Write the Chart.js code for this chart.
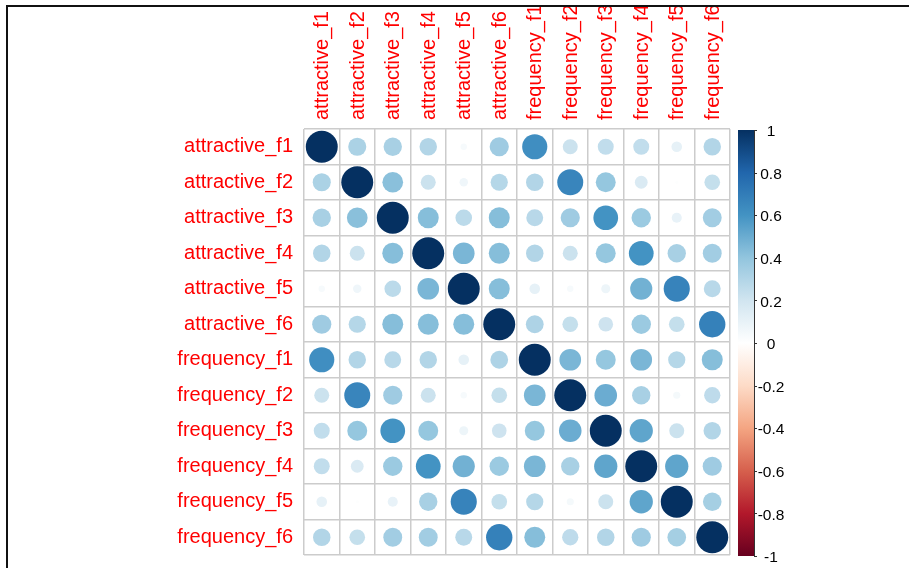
<!DOCTYPE html>
<html>
<head>
<meta charset="utf-8">
<title>Correlation matrix</title>
<script src="https://cdn.jsdelivr.net/npm/chart.js@4.4.1/dist/chart.umd.min.js"></script>
<style>
  html, body { margin: 0; padding: 0; background: #fff; overflow: hidden; }
  #frame {
    position: absolute; left: 6px; top: 5px; width: 903px; height: 563px;
    border-top: 2px solid #111; border-left: 2px solid #111; overflow: hidden;
  }
  #c { position: absolute; left: 0; top: 0; }
</style>
</head>
<body>
<div id="frame"><canvas id="c" width="901" height="561" style="width:901px;height:561px"></canvas></div>
<script>
// Variables (row / column order of the matrix)
const variables = [
  'attractive_f1', 'attractive_f2', 'attractive_f3', 'attractive_f4', 'attractive_f5', 'attractive_f6',
  'frequency_f1', 'frequency_f2', 'frequency_f3', 'frequency_f4', 'frequency_f5', 'frequency_f6'
];

// Correlation coefficients, one row per variable
const attractive_f1 = [1.00, 0.32, 0.33, 0.30, 0.04, 0.36, 0.62, 0.22, 0.25, 0.25, 0.11, 0.30];
const attractive_f2 = [0.32, 1.00, 0.42, 0.22, 0.07, 0.29, 0.30, 0.66, 0.39, 0.16, 0.01, 0.24];
const attractive_f3 = [0.33, 0.42, 1.00, 0.43, 0.27, 0.43, 0.28, 0.36, 0.60, 0.37, 0.10, 0.35];
const attractive_f4 = [0.30, 0.22, 0.43, 1.00, 0.46, 0.43, 0.30, 0.22, 0.39, 0.60, 0.33, 0.35];
const attractive_f5 = [0.04, 0.07, 0.27, 0.46, 1.00, 0.43, 0.11, 0.04, 0.08, 0.48, 0.67, 0.28];
const attractive_f6 = [0.36, 0.29, 0.43, 0.43, 0.43, 1.00, 0.31, 0.24, 0.21, 0.37, 0.24, 0.68];
const frequency_f1  = [0.62, 0.30, 0.28, 0.30, 0.11, 0.31, 1.00, 0.46, 0.39, 0.46, 0.29, 0.43];
const frequency_f2  = [0.22, 0.66, 0.36, 0.22, 0.04, 0.24, 0.46, 1.00, 0.50, 0.33, 0.05, 0.26];
const frequency_f3  = [0.25, 0.39, 0.60, 0.39, 0.08, 0.21, 0.39, 0.50, 1.00, 0.53, 0.22, 0.30];
const frequency_f4  = [0.25, 0.16, 0.37, 0.60, 0.48, 0.37, 0.46, 0.33, 0.53, 1.00, 0.53, 0.36];
const frequency_f5  = [0.11, 0.01, 0.10, 0.33, 0.67, 0.24, 0.29, 0.05, 0.22, 0.53, 1.00, 0.34];
const frequency_f6  = [0.30, 0.24, 0.35, 0.35, 0.28, 0.68, 0.43, 0.26, 0.30, 0.36, 0.34, 1.00];

const rows = [
  attractive_f1, attractive_f2, attractive_f3, attractive_f4, attractive_f5, attractive_f6,
  frequency_f1, frequency_f2, frequency_f3, frequency_f4, frequency_f5, frequency_f6
];

// Colour legend ticks
const legendTicks = [1, 0.8, 0.6, 0.4, 0.2, 0, -0.2, -0.4, -0.6, -0.8, -1];

// Diverging red-blue palette, evenly spaced from -1 to 1
const palette = ['#67001F', '#B2182B', '#D6604D', '#F4A582', '#FDDBC7', '#FFFFFF',
                 '#D1E5F0', '#92C5DE', '#4393C3', '#2166AC', '#053061'];

function hexToRgb(h) {
  return [parseInt(h.slice(1, 3), 16), parseInt(h.slice(3, 5), 16), parseInt(h.slice(5, 7), 16)];
}
function colorFor(v) {
  const t = (Math.max(-1, Math.min(1, v)) + 1) / 2 * (palette.length - 1);
  const i = Math.min(Math.floor(t), palette.length - 2);
  const f = t - i;
  const a = hexToRgb(palette[i]), b = hexToRgb(palette[i + 1]);
  const c = a.map((x, k) => Math.round(x + (b[k] - x) * f));
  return `rgb(${c[0]},${c[1]},${c[2]})`;
}

const points = [];
rows.forEach((row, i) => row.forEach((v, j) => {
  points.push({ x: variables[j], y: variables[i], v: v });
}));

const FONT = '"Liberation Sans", Arial, Helvetica, sans-serif';
Chart.defaults.font.family = FONT;

// Vertical colour legend drawn beside the matrix
const colorLegend = {
  id: 'colorLegend',
  afterDraw(chart) {
    const { ctx, chartArea } = chart;
    const s = chart.scales.legendScale;
    const x0 = chartArea.right + 8, w = 16;
    const top = s.getPixelForValue(1) + 1;
    const bot = s.getPixelForValue(-1) + 1;
    ctx.save();
    const g = ctx.createLinearGradient(0, bot, 0, top);
    palette.forEach((c, k) => g.addColorStop(k / (palette.length - 1), c));
    ctx.fillStyle = g;
    ctx.fillRect(x0, top, w, bot - top);
    ctx.strokeStyle = '#333';
    ctx.lineWidth = 1;
    ctx.beginPath();
    ctx.moveTo(x0 + w + 0.5, top);
    ctx.lineTo(x0 + w + 0.5, bot);
    ctx.stroke();
    ctx.fillStyle = '#000';
    ctx.font = '15.5px ' + FONT;
    ctx.textAlign = 'center';
    ctx.textBaseline = 'middle';
    legendTicks.forEach(v => {
      const y = s.getPixelForValue(v) + 1;
      ctx.beginPath();
      ctx.moveTo(x0 + w, Math.round(y) + 0.5);
      ctx.lineTo(x0 + w + 3, Math.round(y) + 0.5);
      ctx.stroke();
      ctx.fillText(String(v), x0 + 33, y + 2);
    });
    ctx.restore();
  }
};

const labelFont = { family: FONT, size: 20 };

// Circle area proportional to |r|: radius = 0.45 * cell * sqrt(|r|)
function circleRadius(ctx) {
  if (!ctx.raw) return 0;
  const cell = ctx.chart.scales.x.width / variables.length;
  return 0.45 * cell * Math.sqrt(Math.abs(ctx.raw.v));
}

new Chart(document.getElementById('c'), {
  type: 'scatter',
  data: {
    datasets: [{
      data: points,
      showLine: false,
      pointRadius: circleRadius,
      pointHoverRadius: circleRadius,
      pointBorderWidth: 0,
      pointBackgroundColor: ctx => ctx.raw ? colorFor(ctx.raw.v) : '#fff',
      pointBorderColor: 'rgba(0,0,0,0)'
    }]
  },
  options: {
    responsive: false,
    animation: false,
    events: [],
    layout: { padding: { left: 0, top: 0, right: 179, bottom: 13 } },
    plugins: { legend: { display: false }, tooltip: { enabled: false } },
    scales: {
      x: {
        type: 'category', labels: variables, position: 'top', offset: true,
        grid: { offset: true, color: '#cccccc', lineWidth: 1.5, drawTicks: false },
        border: { display: false },
        ticks: { autoSkip: false, minRotation: 90, maxRotation: 90, padding: 9, labelOffset: 25,
                 color: '#ff0000', font: labelFont },
        afterFit: s => { s.height = 122; s.paddingLeft = 0; s.paddingRight = 0; }
      },
      y: {
        type: 'category', labels: variables, position: 'left', offset: true,
        grid: { offset: true, color: '#cccccc', lineWidth: 1.5, drawTicks: false },
        border: { display: false },
        ticks: { autoSkip: false, padding: 11, color: '#ff0000', font: labelFont },
        afterFit: s => { s.width = 296; s.paddingTop = 0; s.paddingBottom = 0; }
      },
      legendScale: {
        type: 'linear', position: 'right', display: false, min: -1, max: 1
      }
    }
  },
  plugins: [colorLegend]
});
</script>
</body>
</html>
